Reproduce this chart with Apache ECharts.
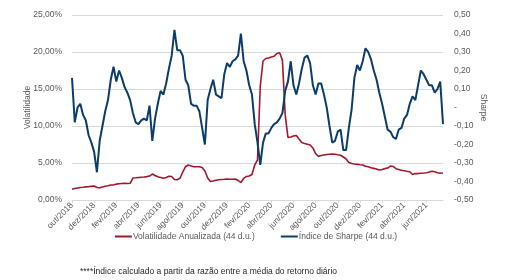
<!DOCTYPE html>
<html>
<head>
<meta charset="utf-8">
<script src="https://cdn.jsdelivr.net/npm/echarts@6/dist/echarts.min.js"></script>
<style>
  html, body { margin: 0; padding: 0; background: #fff; }
  #chart { width: 512px; height: 280px; }
</style>
</head>
<body>
<div id="chart"></div>
<script>
// meses do eixo x (4 pontos por mes, jul/2021 so com 3)
const months = [
  'out/2018', 'nov/2018', 'dez/2018', 'jan/2019', 'fev/2019', 'mar/2019', 'abr/2019', 'mai/2019',
  'jun/2019', 'jul/2019', 'ago/2019', 'set/2019', 'out/2019', 'nov/2019', 'dez/2019', 'jan/2020',
  'fev/2020', 'mar/2020', 'abr/2020', 'mai/2020', 'jun/2020', 'jul/2020', 'ago/2020', 'set/2020',
  'out/2020', 'nov/2020', 'dez/2020', 'jan/2021', 'fev/2021', 'mar/2021', 'abr/2021', 'mai/2021',
  'jun/2021', 'jul/2021'
];
const pointsPerMonth = 4;
const lastMonthPoints = 3;

// Volatilidade Anualizada (44 d.u.), em %
const volatilidade = [
  1.45, 1.55, 1.62, 1.69, 1.73, 1.78, 1.81, 1.85, 1.89, 1.69,
  1.65, 1.76, 1.85, 1.92, 2.03, 2.05, 2.14, 2.19, 2.23, 2.26,
  2.23, 2.26, 2.97, 3.00, 3.04, 3.08, 3.11, 3.16, 3.24, 3.51,
  3.31, 3.15, 3.04, 2.93, 3.04, 3.22, 3.18, 2.77, 2.73, 2.93,
  3.78, 4.50, 4.73, 4.59, 4.50, 4.50, 4.50, 4.39, 3.92, 2.97,
  2.50, 2.57, 2.66, 2.73, 2.77, 2.80, 2.84, 2.80, 2.81, 2.84,
  2.64, 2.36, 2.91, 3.18, 3.24, 3.45, 4.73, 5.41, 15.40, 18.78,
  19.12, 19.19, 19.32, 19.43, 19.80, 19.91, 18.90, 11.50, 8.45, 8.51,
  8.65, 8.72, 8.24, 7.77, 7.64, 7.54, 7.43, 7.03, 6.28, 5.88,
  6.01, 6.08, 6.15, 6.19, 6.22, 6.18, 6.11, 6.05, 5.81, 5.54,
  5.07, 4.93, 4.86, 4.82, 4.77, 4.73, 4.57, 4.49, 4.35, 4.27,
  4.19, 4.05, 4.12, 4.24, 4.32, 4.59, 4.53, 4.23, 4.12, 4.01,
  3.95, 3.88, 3.82, 3.45, 3.58, 3.57, 3.62, 3.65, 3.69, 3.78,
  3.89, 3.81, 3.68, 3.61, 3.65
];

// Indice de Sharpe (44 d.u.)
const sharpe = [
  0.16, -0.08, 0.00, 0.02, -0.04, -0.07, -0.15, -0.19, -0.24, -0.35,
  -0.18, -0.10, -0.02, 0.04, 0.15, 0.22, 0.14, 0.20, 0.16, 0.11,
  0.08, 0.04, -0.03, -0.08, -0.09, -0.07, -0.06, -0.07, 0.01, -0.18,
  -0.06, 0.02, 0.09, 0.07, 0.13, 0.21, 0.28, 0.42, 0.31, 0.31,
  0.28, 0.15, 0.12, 0.02, 0.01, 0.01, -0.02, -0.11, -0.20, 0.04,
  0.10, 0.15, 0.07, 0.06, 0.05, 0.18, 0.24, 0.22, 0.25, 0.26,
  0.28, 0.40, 0.25, 0.20, 0.12, 0.07, -0.09, -0.19, -0.31, -0.19,
  -0.14, -0.14, -0.11, -0.09, -0.08, -0.06, -0.03, 0.09, 0.14, 0.25,
  0.12, 0.07, 0.13, 0.21, 0.27, 0.28, 0.24, 0.12, 0.07, 0.13,
  0.13, 0.07, 0.00, -0.10, -0.19, -0.18, -0.13, -0.12, -0.23, -0.23,
  -0.11, -0.01, 0.16, 0.23, 0.20, 0.25, 0.32, 0.30, 0.26, 0.20,
  0.15, 0.08, 0.02, -0.05, -0.12, -0.13, -0.16, -0.17, -0.12, -0.11,
  -0.06, -0.04, 0.02, 0.06, 0.04, 0.12, 0.20, 0.18, 0.15, 0.12,
  0.12, 0.08, 0.10, 0.14, -0.09
];

const footnote = '****Índice calculado a partir da razão entre a média do retorno diário';

// categorias: "mes|semana"
const categories = [];
months.forEach((m, k) => {
  const n = k === months.length - 1 ? lastMonthPoints : pointsPerMonth;
  for (let w = 1; w <= n; w++) categories.push(m + '|' + w);
});

const grey = '#595959';
const font = 'Liberation Sans, Arial, sans-serif';

const chart = echarts.init(document.getElementById('chart'), null, { renderer: 'canvas' });

chart.setOption({
  animation: false,
  grid: { left: 72, right: 69, top: 15, bottom: 80 },
  legend: {
    top: 227,
    left: 'center',
    itemWidth: 17,
    itemHeight: 2,
    itemGap: 26,
    icon: 'rect',
    textStyle: { color: grey, fontSize: 8.5, fontFamily: font, padding: [0, 0, 0, -4] },
    data: ['Volatilidade Anualizada (44 d.u.)', 'Índice de Sharpe (44 d.u.)']
  },
  xAxis: {
    type: 'category',
    data: categories,
    boundaryGap: false,
    axisLine: { lineStyle: { color: '#d9d9d9' } },
    axisTick: { interval: 7, length: 3, lineStyle: { color: '#d9d9d9' } },
    axisLabel: {
      interval: 7,
      rotate: 45,
      color: grey,
      fontSize: 8.5,
      fontFamily: font,
      margin: 4,
      formatter: (v) => v.split('|')[0]
    }
  },
  yAxis: [
    {
      type: 'value',
      min: 0,
      max: 25,
      interval: 5,
      name: 'Volatilidade',
      nameLocation: 'middle',
      nameRotate: 90,
      nameGap: 40,
      nameMoveOverlap: false,
      nameTextStyle: { color: grey, fontSize: 8.5, fontFamily: font },
      axisLine: { show: false },
      axisTick: { show: false },
      splitLine: { lineStyle: { color: '#d9d9d9' } },
      axisLabel: {
        color: grey,
        fontSize: 8.5,
        fontFamily: font,
        margin: 10,
        formatter: (v) => v.toFixed(2).replace('.', ',') + '%'
      }
    },
    {
      type: 'value',
      min: -0.5,
      max: 0.5,
      interval: 0.1,
      name: 'Sharpe',
      nameLocation: 'middle',
      nameRotate: -90,
      nameGap: 36,
      nameMoveOverlap: false,
      nameTextStyle: { color: grey, fontSize: 8.5, fontFamily: font },
      axisLine: { show: false },
      axisTick: { show: false },
      splitLine: { show: false },
      axisLabel: {
        color: grey,
        fontSize: 8.5,
        fontFamily: font,
        margin: 11,
        formatter: (v) => Math.abs(v) < 1e-9 ? '-' : v.toFixed(2).replace('.', ',')
      }
    }
  ],
  series: [
    {
      name: 'Volatilidade Anualizada (44 d.u.)',
      type: 'line',
      yAxisIndex: 0,
      data: volatilidade,
      showSymbol: false,
      color: '#a3172c',
      lineStyle: { width: 1.6, color: '#a3172c' }
    },
    {
      name: 'Índice de Sharpe (44 d.u.)',
      type: 'line',
      yAxisIndex: 1,
      data: sharpe,
      showSymbol: false,
      color: '#0b3d6b',
      lineStyle: { width: 2, color: '#0b3d6b' }
    }
  ],
  graphic: [
    {
      type: 'text',
      left: 80,
      top: 267,
      style: { text: footnote, fill: '#262626', fontSize: 8.5, fontFamily: font }
    }
  ]
});
</script>
</body>
</html>
